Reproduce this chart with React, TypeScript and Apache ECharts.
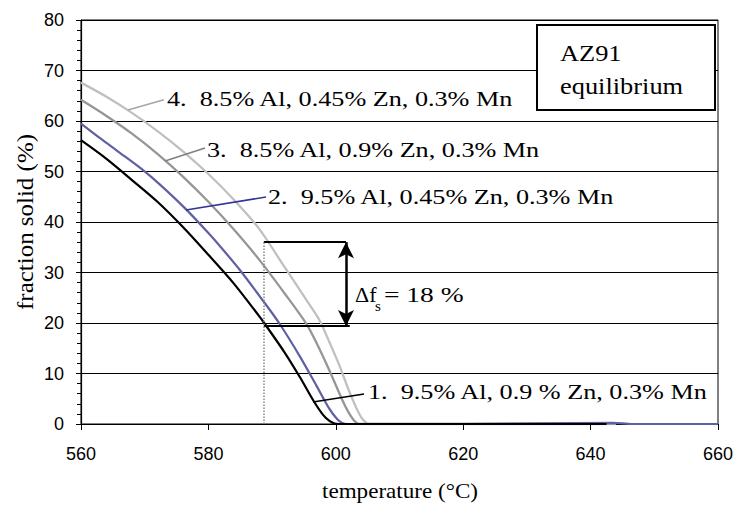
import React, { useEffect, useRef } from 'react';
import * as echarts from 'echarts';

// ---- data ----
// Curve 1: 9.5% Al, 0.9 % Zn, 0.3% Mn (black)
const temp1 = [560, 564, 568, 572, 576, 580, 584, 588, 588.7, 592, 594.4, 596.5, 598, 599, 599.8, 600.5, 620, 642.5];
const frac1 = [56.2, 52.5, 48.3, 44.0, 39.0, 33.5, 27.8, 21.3, 20.1, 14.1, 9.2, 4.6, 1.8, 0.6, 0.1, 0, 0, 0];
// Curve 2: 9.5% Al, 0.45% Zn, 0.3% Mn (blue)
const temp2 = [560, 563, 566, 569.5, 572.4, 576.5, 580, 582.3, 585, 588.7, 591.2, 594.4, 597, 599, 600.2, 601, 601.8, 620, 643.5, 646.5, 660];
const frac2 = [59.5, 56.6, 53.8, 50.5, 47.4, 42.5, 37.8, 34.5, 30.4, 24.2, 19.8, 13.3, 7.5, 3.0, 1.0, 0.2, 0, 0, 0.25, 0, 0];
// Curve 3: 8.5% Al, 0.9% Zn, 0.3% Mn (mid grey)
const temp3 = [560, 564, 568, 572, 576, 580, 584, 588, 592, 595.4, 597, 599, 601, 602, 602.8, 603.4, 604, 620, 644];
const frac3 = [64.2, 61.0, 57.5, 53.5, 49.0, 44.0, 38.5, 32.5, 25.8, 19.8, 16.0, 10.6, 4.8, 2.3, 0.8, 0.1, 0, 0, 0];
// Curve 4: 8.5% Al, 0.45% Zn, 0.3% Mn (light grey)
const temp4 = [560, 564, 568, 572, 576, 580, 584, 588, 592, 596, 597.5, 599, 600.5, 602, 603, 604, 604.8, 605.3, 620, 644];
const frac4 = [67.6, 64.8, 61.6, 58.0, 54.0, 49.5, 44.4, 38.6, 31.0, 23.4, 20.4, 16.2, 11.8, 6.8, 3.8, 1.3, 0.2, 0, 0, 0];

const curveNames = [
  '1.  9.5% Al, 0.9 % Zn, 0.3% Mn',
  '2.  9.5% Al, 0.45% Zn, 0.3% Mn',
  '3.  8.5% Al, 0.9% Zn, 0.3% Mn',
  '4.  8.5% Al, 0.45% Zn, 0.3% Mn',
];

// Δf_s annotation (temperature, fraction)
const deltaTemp = 588.7;
const deltaLow = 19.4;
const deltaHigh = 36;
const deltaValue = 18;

const SERIF = "'Liberation Serif', 'Times New Roman', serif";
const SANS = "'Liberation Sans', Arial, sans-serif";

const zip = (xs: number[], ys: number[]) => xs.map((x, i) => [x, ys[i]]);

export default function App() {
  const ref = useRef<HTMLDivElement>(null);
  useEffect(() => {
    if (!ref.current) return;
    const chart = echarts.init(ref.current, undefined, { renderer: 'svg' });

    const lineSeries = (name: string, data: number[][], color: string, width: number, leader: any) => ({
      name,
      type: 'line',
      data,
      showSymbol: false,
      symbol: 'none',
      smooth: 0.3,
      lineStyle: { color, width },
      itemStyle: { color },
      markLine: leader,
      z: 2,
    });

    const leader = (a: number[], b: number[], color: string) => ({
      silent: true,
      symbol: 'none',
      label: { show: false },
      lineStyle: { color, width: 1.6, type: 'solid' },
      data: [[{ coord: a }, { coord: b }]],
    });

    const markBlack = {
      silent: true,
      symbol: 'none',
      label: { show: false },
      lineStyle: { color: '#000', width: 1.6, type: 'solid' },
      data: [
        [{ coord: [596.42, 4.36] }, { coord: [604.43, 5.94] }],
        [{ coord: [deltaTemp, deltaHigh], lineStyle: { width: 2 } }, { coord: [601.6, deltaHigh] }],
        [{ coord: [deltaTemp, deltaLow], lineStyle: { width: 2 } }, { coord: [602.2, deltaLow] }],
        [
          { coord: [deltaTemp, 0], lineStyle: { color: '#888', type: 'dotted', width: 1.5 } },
          { coord: [deltaTemp, deltaHigh] },
        ],
        [
          { coord: [601.6, deltaHigh], symbol: 'arrow', symbolSize: [12, 16], lineStyle: { width: 2.5 } },
          { coord: [601.6, deltaLow], symbol: 'arrow', symbolSize: [12, 16] },
        ],
      ],
    };

    const txt = (text: string, x: number, y: number, size: number, sx = 1.19) => ({
      type: 'text',
      x,
      y,
      scaleX: sx,
      z: 20,
      style: {
        text,
        fill: '#000',
        fontFamily: SERIF,
        fontSize: size,
        align: 'left',
        textAlign: 'left',
        verticalAlign: 'middle',
        textVerticalAlign: 'middle',
      },
    });

    chart.setOption({
      animation: false,
      backgroundColor: '#fff',
      grid: {
        left: 81,
        right: 21,
        top: 20,
        bottom: 82,
        containLabel: false,
        show: true,
        borderColor: '#000',
        borderWidth: 1,
      },
      xAxis: {
        type: 'value',
        min: 560,
        max: 660,
        interval: 20,
        axisLine: { show: true, lineStyle: { color: '#000', width: 1.2 } },
        axisTick: { show: true, inside: false, length: 6, lineStyle: { color: '#000' } },
        splitLine: { show: false },
        axisLabel: { color: '#000', fontFamily: SANS, fontSize: 18, margin: 21 },
      },
      yAxis: {
        type: 'value',
        min: 0,
        max: 80,
        interval: 10,
        axisLine: { show: true, onZero: false, lineStyle: { color: '#000', width: 1.2 } },
        axisTick: { show: true, inside: false, length: 5, lineStyle: { color: '#000' } },
        minorTick: { show: true, splitNumber: 5, length: 4, lineStyle: { color: '#000' } },
        splitLine: { show: true, lineStyle: { color: '#000', width: 1 } },
        axisLabel: { color: '#000', fontFamily: SANS, fontSize: 18, margin: 17 },
      },
      series: [
        lineSeries(curveNames[3], zip(temp4, frac4), '#c0c0c0', 2.3, leader([567.38, 62.18], [573.0, 64.2], '#a6a6a6')),
        lineSeries(curveNames[2], zip(temp3, frac3), '#969696', 2.3, leader([573.19, 52.08], [579.47, 54.65], '#808080')),
        lineSeries(curveNames[1], zip(temp2, frac2), '#5f5fa3', 2.2, leader([576.48, 42.38], [589.04, 44.95], '#333399')),
        lineSeries(curveNames[0], zip(temp1, frac1), '#000000', 2.2, markBlack),
      ],
      graphic: [
        {
          type: 'rect',
          z: 15,
          shape: { x: 537, y: 25, width: 178, height: 85 },
          style: { fill: '#fff', stroke: '#000', lineWidth: 2 },
        },
        txt('AZ91', 560, 53, 24, 1.1),
        txt('equilibrium', 560, 86, 24, 1.1),
        txt(curveNames[3], 167, 98, 22),
        txt(curveNames[2], 207, 149, 22),
        txt(curveNames[1], 268, 196, 22),
        txt(curveNames[0], 368, 391, 22),
        txt('Δf', 355, 294, 22, 1.0),
        txt('s', 375, 306, 15, 1.0),
        txt('= ' + deltaValue + ' %', 384, 294, 22, 1.25),
        {
          type: 'text',
          x: 400,
          y: 491,
          z: 20,
          scaleX: 1.05,
          style: {
            text: 'temperature (°C)',
            fill: '#000',
            fontFamily: SERIF,
            fontSize: 22,
            align: 'center',
            textAlign: 'center',
            verticalAlign: 'middle',
            textVerticalAlign: 'middle',
          },
        },
        {
          type: 'text',
          x: 25,
          y: 222,
          rotation: Math.PI / 2,
          scaleX: 1.085,
          z: 20,
          style: {
            text: 'fraction solid (%)',
            fill: '#000',
            fontFamily: SERIF,
            fontSize: 23,
            align: 'center',
            textAlign: 'center',
            verticalAlign: 'middle',
            textVerticalAlign: 'middle',
          },
        },
      ],
    });
    return () => chart.dispose();
  }, []);
  return <div ref={ref} style={{ width: 739, height: 506, position: 'absolute', left: 0, top: 0 }} />;
}
